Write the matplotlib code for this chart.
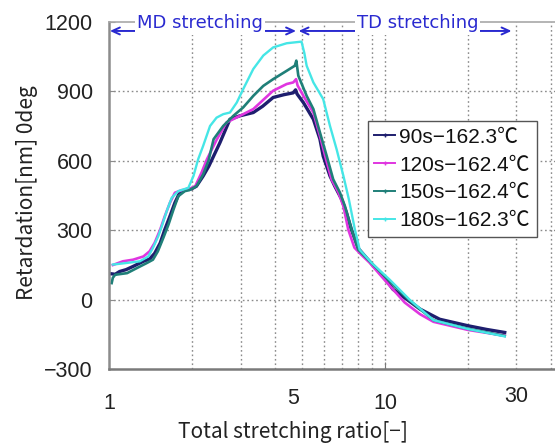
import matplotlib
matplotlib.use("Agg")
import matplotlib.pyplot as plt
from matplotlib.ticker import NullFormatter, FixedLocator
from matplotlib.lines import Line2D
import matplotlib.transforms as mtransforms

# ---------------- data ----------------
labels = ["90s\u2212162.3\u2103", "120s\u2212162.4\u2103", "150s\u2212162.4\u2103", "180s\u2212162.3\u2103"]
colors = ["#1e1e6e", "#e035e0", "#1f7f78", "#45e6e6"]

x90 = [1.02, 1.05, 1.09, 1.15, 1.22, 1.33, 1.40, 1.46, 1.53, 1.59, 1.66, 1.73, 1.80, 1.90, 1.99, 2.07,
       2.19, 2.30, 2.52, 2.74, 2.98, 3.33, 3.6, 3.93, 4.3, 4.65, 4.74, 4.80, 5.06, 5.5, 5.81, 5.97,
       6.32, 6.58, 6.97, 7.25, 7.55, 8.0, 9.0, 10.0, 10.7, 12.0, 13.4, 15.8, 20.0, 23.4, 27.2]
y90 = [112, 110, 122, 130, 144, 166, 176, 200, 245, 303, 361, 419, 462, 476, 479, 490,
       534, 578, 678, 779, 794, 808, 835, 873, 885, 893, 906, 888, 851, 779, 693, 620,
       534, 490, 433, 376, 305, 222, 152, 92, 45, 2, -40, -84, -112, -128, -141]

x120 = [1.03, 1.12, 1.22, 1.33, 1.40, 1.46, 1.53, 1.59, 1.66, 1.73, 1.83, 1.93, 2.05, 2.16, 2.26,
        2.45, 2.66, 2.98, 3.33, 3.93, 4.4, 4.65, 4.76, 4.82, 5.06, 5.5, 5.81, 6.07, 6.4, 6.78,
        7.07, 7.36, 7.75, 8.2, 8.8, 10.1, 11.8, 13.4, 15.0, 20.0, 27.2]
y120 = [150, 166, 173, 187, 209, 245, 303, 361, 419, 462, 473, 476, 490, 548, 606,
        690, 765, 794, 823, 902, 931, 938, 952, 925, 880, 808, 707, 620, 520, 463,
        404, 303, 225, 195, 160, 78, -12, -62, -95, -130, -155]

x150 = [1.02, 1.03, 1.05, 1.16, 1.26, 1.37, 1.44, 1.50, 1.57, 1.64, 1.71, 1.78, 1.88, 1.95, 2.07,
        2.19, 2.29, 2.39, 2.59, 2.82, 3.06, 3.33, 3.62, 3.93, 4.4, 4.71, 4.77, 4.85, 5.2, 5.5,
        5.81, 6.15, 6.49, 6.87, 7.16, 7.57, 8.0, 9.0, 10.2, 12.2, 15.0, 20.0, 27.2]
y150 = [72, 95, 108, 115, 137, 159, 173, 209, 267, 325, 390, 447, 469, 473, 490,
        541, 600, 693, 750, 794, 830, 880, 923, 952, 988, 1010, 1032, 967, 880, 823,
        722, 620, 520, 462, 404, 303, 216, 155, 90, 0, -88, -125, -156]

x180 = [1.03, 1.16, 1.29, 1.385, 1.44, 1.505, 1.55, 1.615, 1.684, 1.78, 1.855, 1.935, 2.02, 2.1,
        2.19, 2.32, 2.45, 2.59, 2.74, 2.9, 3.06, 3.33, 3.62, 3.93, 4.4, 4.98, 5.1, 5.2, 5.5,
        5.97, 6.32, 6.68, 7.07, 7.4, 7.78, 8.1, 8.95, 10.4, 12.3, 15.0, 20.0, 27.2]
y180 = [152, 159, 166, 187, 224, 274, 317, 382, 440, 469, 476, 483, 534, 606,
        664, 750, 786, 801, 808, 851, 909, 996, 1054, 1089, 1107, 1114, 1065, 1010, 938,
        866, 750, 649, 534, 433, 303, 216, 159, 87, 0, -88, -126, -158]

series_x = [x90, x120, x150, x180]
series_y = [y90, y120, y150, y180]
linewidths = [2.4, 1.9, 1.9, 1.7]

yticks = [-300, 0, 300, 600, 900, 1200]
ytick_labels = ["\u2212300", "0", "300", "600", "900", "1200"]
xtick_vals = [1, 5, 10, 30]
xtick_labels = ["1", "5", "10", "30"]
xtick_offsets = [(0, -24), (-9, -19), (0, -24), (0, -17)]  # pixel offsets of the labels

xgrid_vals = [2, 3, 4, 5, 6, 7, 8, 9, 10, 20, 30, 40]

md_text, td_text = "MD stretching", "TD stretching"
md_span = (1.005, 4.76)
td_span = (4.86, 28.8)
md_center, td_center = 2.133, 13.12
arrow_y, text_y = 1160, 1171

xlabel = "Total stretching ratio[\u2212]"
ylabel = "Retardation[nm] 0deg"

# ---------------- figure ----------------
W, H = 555, 445
fig = plt.figure(figsize=(W / 100, H / 100), dpi=100)
L, R, B, T = 109.3, 555.0, 369.3, 21.7
ax = fig.add_axes([L / W, 1 - B / H, (R - L) / W, (B - T) / H])

ax.set_xscale("log")
ax.set_xlim(1, 41.4)
ax.set_ylim(-300, 1200)

for xs, ys, c, lw, lab in zip(series_x, series_y, colors, linewidths, labels):
    ax.plot(xs, ys, color=c, lw=lw, label=lab, solid_joinstyle="round")

# grid
grid_kw = dict(color="#8a8a8a", lw=1.0, linestyle=(0, (1.2, 2.0)), zorder=0)
for gx in xgrid_vals:
    ax.axvline(gx, **grid_kw)
for gy in yticks[1:-1]:
    ax.axhline(gy, **grid_kw)

# spines
ax.spines["right"].set_visible(False)
ax.spines["top"].set_color("#a8a8a8")
ax.spines["top"].set_linewidth(1.2)
ax.spines["left"].set_color("#8c8c8c")
ax.spines["left"].set_linewidth(1.8)
ax.spines["bottom"].set_color("#7a7a7a")
ax.spines["bottom"].set_linewidth(1.8)

# ticks
ax.set_yticks(yticks)
ax.set_yticklabels(ytick_labels)
ax.tick_params(axis="y", direction="in", length=4, color="#8c8c8c", pad=12,
               labelsize=15.5, labelcolor="#222222")
for t in ax.get_yticklabels():
    t.set_family(["Liberation Sans", "DejaVu Sans"])
ax.xaxis.set_major_locator(FixedLocator([10]))
ax.xaxis.set_minor_locator(FixedLocator([]))
ax.xaxis.set_major_formatter(NullFormatter())
ax.xaxis.set_minor_formatter(NullFormatter())
ax.tick_params(axis="x", direction="in", length=5, color="#7a7a7a")

trans = mtransforms.blended_transform_factory(ax.transData, ax.transAxes)
for v, lab, (dx, dy) in zip(xtick_vals, xtick_labels, xtick_offsets):
    ax.annotate(lab, xy=(v, 0), xycoords=trans, xytext=(dx, dy), textcoords="offset pixels",
                ha="center", va="top", fontsize=15.5, color="#222222",
                family=["Liberation Sans", "DejaVu Sans"], annotation_clip=False)

# axis labels
fig.text(293.3 / W, 1 - 432 / H, xlabel, ha="center", va="center", fontsize=15,
         color="#222222", family=["Noto Sans CJK JP", "DejaVu Sans"])
fig.text(26.7 / W, 1 - 192.4 / H, ylabel, ha="center", va="center", rotation=90, fontsize=15,
         color="#222222", family=["Noto Sans CJK JP", "DejaVu Sans"])

# stretching annotations
blue = "#2a2ad0"
for (x0, x1), txt, xc in [(md_span, md_text, md_center), (td_span, td_text, td_center)]:
    ax.annotate("", xy=(x1, arrow_y), xytext=(x0, arrow_y), xycoords="data",
                arrowprops=dict(arrowstyle="<->,head_length=0.55,head_width=0.25",
                                color=blue, lw=1.4, shrinkA=0, shrinkB=0),
                annotation_clip=False, zorder=5)
    ax.text(xc, text_y, txt, ha="center", va="baseline", fontsize=13, color=blue,
            family="DejaVu Sans", zorder=6, clip_on=False,
            bbox=dict(facecolor="white", edgecolor="none", pad=1.5))

# legend
handles = [Line2D([], [], color=c, lw=1.4, marker="+", ms=3, mew=1) for c in colors]
leg = ax.legend(handles, labels, loc="upper left", bbox_to_anchor=(0.580, 0.714),
                frameon=True, fancybox=False, framealpha=1,
                edgecolor="#555555", handlelength=1.0, handletextpad=0.2,
                labelspacing=0.42, borderpad=0.32, borderaxespad=0,
                prop={"family": ["Liberation Sans", "Noto Sans CJK JP"], "size": 15})
leg.get_frame().set_linewidth(1.0)
for t in leg.get_texts():
    t.set_color("#111111")

fig.savefig("out.png", dpi=100)
